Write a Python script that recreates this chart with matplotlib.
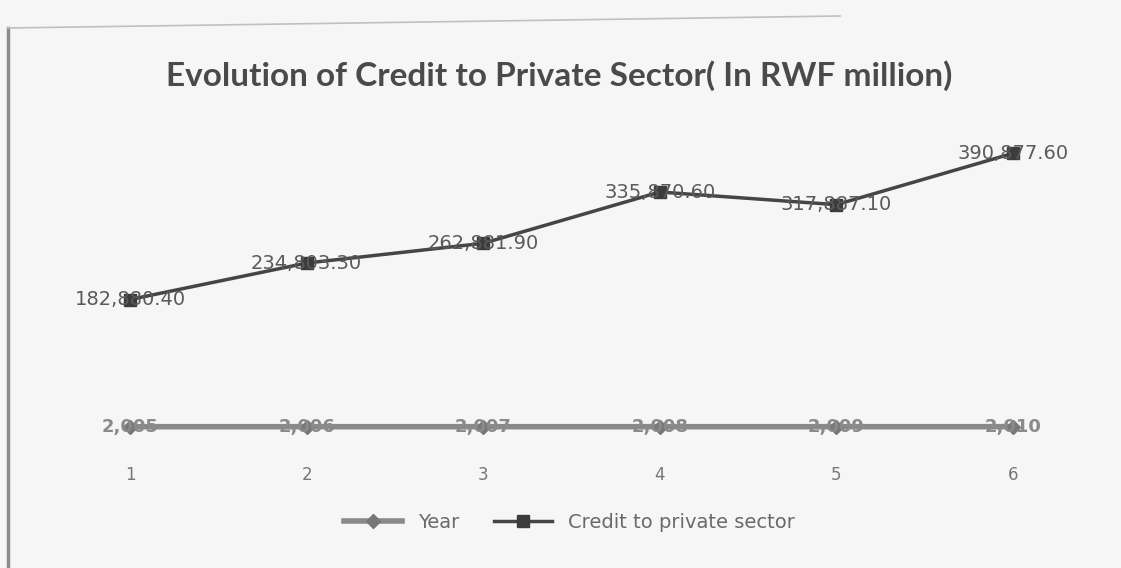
import matplotlib.pyplot as plt
from matplotlib.lines import Line2D

# data (hidden digits are estimates)
categories = [1, 2, 3, 4, 5, 6]
year = [2005, 2006, 2007, 2008, 2009, 2010]
credit = [182880.40, 234803.30, 262881.90, 335870.60, 317887.10, 390877.60]
title = "Evolution of Credit to Private Sector( In RWF million)"

fig = plt.figure(figsize=(11.21, 5.68), dpi=100)
fig.patch.set_facecolor('#f6f6f6')
ax = fig.add_axes([0.0714, 0.229, 0.874, 0.542])
ax.set_facecolor('none')

ax.plot(categories, year, color='#8a8a8a', lw=4, marker='D', ms=7,
        mfc='#777777', mec='#777777', label='Year', zorder=2)
ax.plot(categories, credit, color='#454545', lw=2.5, marker='s', ms=8,
        mfc='#3c3c3c', mec='#3c3c3c', label='Credit to private sector', zorder=3)

for x, v in zip(categories, year):
    ax.text(x, v, f"{v:,}", ha='center', va='center', fontsize=13,
            color='#8a8a8a', fontweight='bold', zorder=4)
for x, v in zip(categories, credit):
    ax.text(x, v, f"{v:,.2f}", ha='center', va='center', fontsize=14,
            color='#5a5a5a', zorder=4)

ax.set_xlim(0.717, 6.266)
ax.set_ylim(-14000, 424000)
ax.set_xticks(categories)
ax.set_xticklabels([str(c) for c in categories], fontsize=12, color='#777777')
ax.tick_params(axis='x', length=0, pad=20)
ax.set_yticks([])
for s in ax.spines.values():
    s.set_visible(False)

fig.text(0.499, 1 - 76 / 568, title, ha='center', va='center',
         fontsize=24, fontweight='bold', family='Lato', color='#4a4a4a')

fig.legend(loc='center', bbox_to_anchor=(0.508, 1 - 522 / 568), ncol=2,
           frameon=False, fontsize=14, labelcolor='#6a6a6a',
           handlelength=3, columnspacing=1.8)

# scan edge lines
fig.add_artist(Line2D([8 / 1121, 8 / 1121], [0, 1 - 28 / 568],
                      color='#8c8c8c', lw=2.5))
fig.add_artist(Line2D([8 / 1121, 840 / 1121], [1 - 28 / 568, 1 - 16 / 568],
                      color='#c0c0c0', lw=1.2))

fig.savefig('out.png', dpi=100, facecolor=fig.get_facecolor())
